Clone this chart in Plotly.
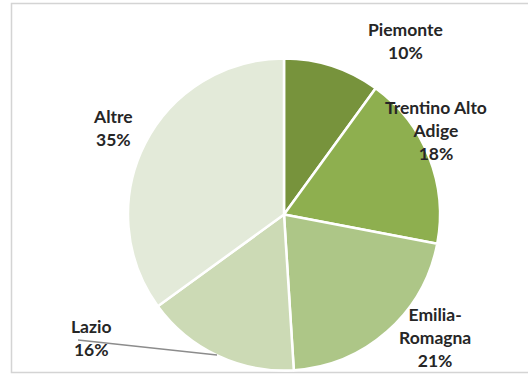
import plotly.graph_objects as go

# Share by region (percent), clockwise from 12 o'clock
regions = ["Piemonte", "Trentino Alto Adige", "Emilia-Romagna", "Lazio", "Altre"]
shares = [10, 18, 21, 16, 35]
colors = ["#77933C", "#8EAF4F", "#ADC687", "#CCDAB5", "#E3EAD9"]

# How each region name breaks across lines in its label
wrapped = {
    "Trentino Alto Adige": "Trentino Alto<br>Adige",
    "Emilia-Romagna": "Emilia-<br>Romagna",
}

# Label centres (pixels from top-left of the 528x375 canvas)
label_pos = {
    "Piemonte": (405, 41),
    "Trentino Alto Adige": (436, 131),
    "Emilia-Romagna": (435, 337),
    "Lazio": (91, 338),
    "Altre": (113, 128),
}

W, H = 528, 375


def px(x, y):
    return x / W, 1 - y / H


fig = go.Figure(
    go.Pie(
        labels=regions,
        values=shares,
        sort=False,
        direction="clockwise",
        rotation=0,
        marker=dict(colors=colors, line=dict(color="white", width=2.5)),
        textinfo="none",
        hoverinfo="skip",
        showlegend=False,
        domain=dict(x=[128 / W, 440 / W], y=[1 - 370.5 / H, 1 - 58.5 / H]),
    )
)

annotations = []
for name, val in zip(regions, shares):
    x, y = px(*label_pos[name])
    annotations.append(
        dict(
            x=x, y=y, xref="paper", yref="paper",
            text=f"{wrapped.get(name, name)}<br>{val}%",
            showarrow=False, align="center",
            xanchor="center", yanchor="middle",
            font=dict(family="Lato", size=17.5, color="#262626", weight="bold"),
        )
    )

shapes = [
    # chart frame
    dict(type="rect", xref="paper", yref="paper",
         x0=11.5 / W, x1=1.1, y0=1 - 372.5 / H, y1=1 - 3.5 / H,
         line=dict(color="#D4D4D4", width=1.5), fillcolor="rgba(0,0,0,0)",
         layer="below"),
    # leader line for the Lazio label
    dict(type="line", xref="paper", yref="paper",
         x0=78 / W, y0=1 - 340 / H, x1=217 / W, y1=1 - 355 / H,
         line=dict(color="#8C8C8C", width=1.3)),
]

fig.update_layout(
    width=W, height=H,
    margin=dict(l=0, r=0, t=0, b=0),
    paper_bgcolor="white",
    plot_bgcolor="white",
    annotations=annotations,
    shapes=shapes,
    hovermode=False,
)

fig.write_html("out.html", config={"displayModeBar": False})
